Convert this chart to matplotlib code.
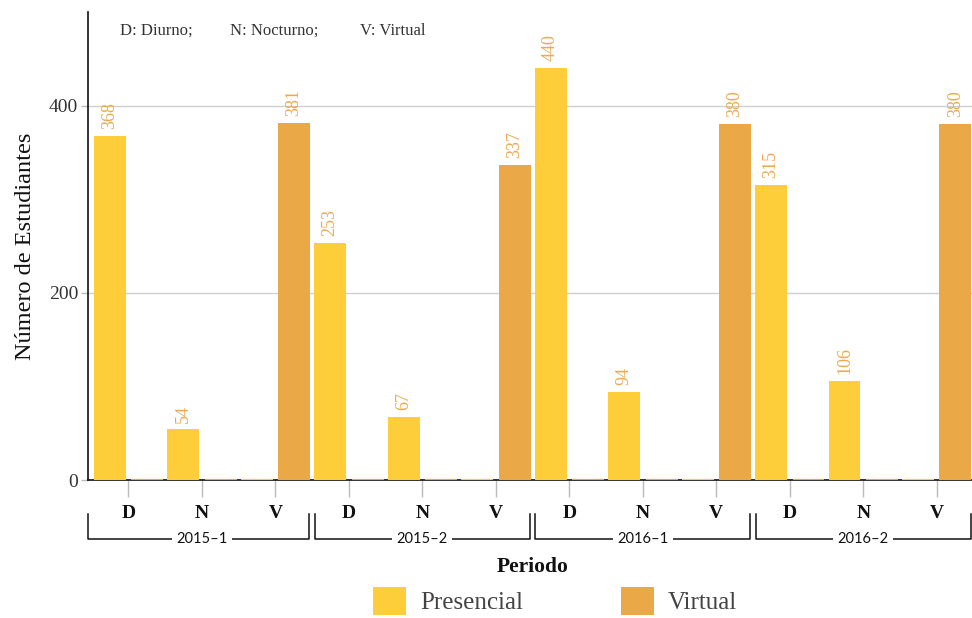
import matplotlib
matplotlib.use("Agg")
import matplotlib.pyplot as plt
import matplotlib.transforms as mtransforms
from matplotlib.patches import Patch
import numpy as np

categories = ["D", "N", "V", "D", "N", "V", "D", "N", "V", "D", "N", "V"]
periods = ["2015–1", "2015–2", "2016–1", "2016–2"]
presencial = [368, 54, 0, 253, 67, 0, 440, 94, 0, 315, 106, 0]
virtual = [0, 0, 381, 0, 0, 337, 0, 0, 380, 0, 0, 380]
series_names = ["Presencial", "Virtual"]
colors = ["#FDCD3A", "#EBA846"]
label_color = "#EBAA50"

SERIF = ["Liberation Serif", "DejaVu Serif"]
SANS = ["Lato", "DejaVu Sans"]

fig = plt.figure(figsize=(9.72, 6.18), dpi=100)
ax = fig.add_axes([0.0905, 0.2233, 0.9095, 0.7573])

x = np.arange(len(categories))
w = 0.435
off = 0.255
for vals, o, c in [(presencial, -off, colors[0]), (virtual, off, colors[1])]:
    lws = [1.6 if v == 0 else 0 for v in vals]
    ax.bar(x + o, vals, width=w, color=c, edgecolor=c, linewidth=lws, zorder=3)
    for xi, v in zip(x + o, vals):
        if v > 0:
            ax.annotate(str(v), (xi, v), xytext=(0, 5), textcoords="offset points",
                        rotation=90, ha="center", va="bottom", fontsize=13,
                        color=label_color, family=SERIF, zorder=4)

ax.set_xlim(-0.55, 11.48)
ax.set_ylim(0, 500)
ax.set_yticks([0, 200, 400])
ax.grid(axis="y", color="#d0d0d0", linewidth=1, zorder=0)
ax.set_axisbelow(True)
for s in ["top", "right"]:
    ax.spines[s].set_visible(False)
for s in ["left", "bottom"]:
    ax.spines[s].set_color("#111111")
    ax.spines[s].set_linewidth(1.2)
    ax.spines[s].set_zorder(2.5)

ax.set_xticks(x)
ax.set_xticklabels(categories, family=SERIF, fontsize=14, color="#111111", fontweight="bold")
ax.tick_params(axis="x", length=12, color="#bbbbbb", width=1, pad=6)
ax.tick_params(axis="y", length=5, color="#bbbbbb", width=1, labelsize=14, labelcolor="#333333", pad=2)
for t in ax.get_yticklabels():
    t.set_family(SERIF)

ax.set_ylabel("Número de Estudiantes", family=SERIF, fontsize=17.5, color="#111111", labelpad=9)

# group brackets
trans = mtransforms.blended_transform_factory(ax.transData, ax.transAxes)
y_top = -0.072
y_line = -0.126
for g, name in enumerate(periods):
    left = 3 * g - 0.5 + 0.04
    right = 3 * g + 2.5 - 0.04
    if g == 0:
        left = -0.55
    ax.plot([left, left, right, right], [y_top, y_line, y_line, y_top],
            transform=trans, color="#111111", linewidth=1.1, clip_on=False)
    ax.text(3 * g + 1, y_line, name, transform=trans, ha="center", va="center",
            fontsize=10.5, family=SANS, color="#111111",
            bbox=dict(facecolor="white", edgecolor="none", pad=3))

fig.text(0.548, 0.083, "Periodo", ha="center", va="center", family=SERIF,
         fontsize=15.5, fontweight="bold", color="#111111")

# note
for xt, txt in [(0.1235, "D: Diurno;"), (0.2366, "N: Nocturno;"), (0.370, "V: Virtual")]:
    fig.text(xt, 0.950, txt, ha="left", va="center", family=SERIF, fontsize=12, color="#333333")

handles = [Patch(facecolor=c, edgecolor="none") for c in colors]
fig.legend(handles, series_names, loc="center", bbox_to_anchor=(0.571, 0.0275), ncol=2,
           frameon=False, prop=dict(family=SERIF, size=18), labelcolor="#444444",
           handlelength=1.32, handleheight=1.32, handletextpad=0.55, columnspacing=3.9)

fig.savefig("out.png", dpi=100)
